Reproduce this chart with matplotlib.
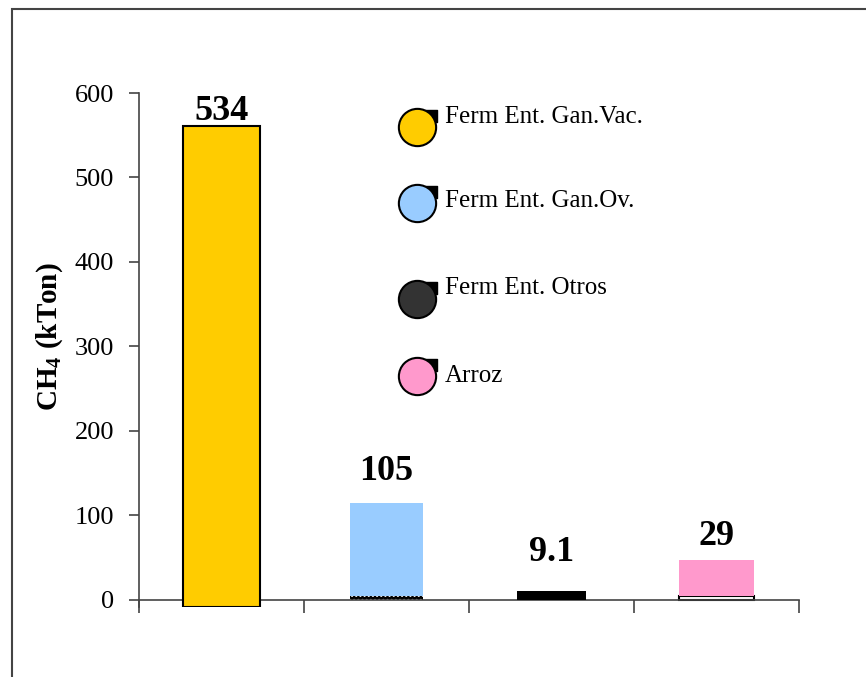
import matplotlib
matplotlib.use("Agg")
import matplotlib.pyplot as plt
from matplotlib.patches import Rectangle

plt.rcParams["font.family"] = ["Liberation Serif", "DejaVu Serif"]
plt.rcParams["mathtext.fontset"] = "custom"
plt.rcParams["mathtext.rm"] = "Liberation Serif"
plt.rcParams["mathtext.bf"] = "Liberation Serif:bold"

# data
categories = ["Ferm Ent. Gan.Vac.", "Ferm Ent. Gan.Ov.", "Ferm Ent. Otros", "Arroz"]
label_values = ["534", "105", "9.1", "29"]
bar_base = [-9, 4.7, 0, 4.7]          # coloured bars do not start at 0 in the original
bar_top = [561, 115, 10.7, 47.4]
under_height = [0, 4, 0, 4]           # small black strips under bars 2 and 4
label_y = [578, 152, 56, 75]
colors = ["#FFCC00", "#99CCFF", "#000000", "#FF99CC"]
legend_colors = ["#FFCC00", "#99CCFF", "#333333", "#FF99CC"]

x = list(range(len(categories)))
heights = [t - b for t, b in zip(bar_top, bar_base)]

fig = plt.figure(figsize=(8.66, 6.77), dpi=100)
ax = fig.add_axes([0.1605, 0.1028, 0.762, 0.7598])

# small strips under bars
ax.bar(x[1], under_height[1], bottom=0, width=0.44, color="black",
       edgecolor="white", hatch="....", linewidth=0, zorder=2)
ax.bar(x[3], under_height[3], bottom=0, width=0.45, facecolor="white",
       edgecolor="black", linewidth=1.5, zorder=2)

edge_w = [1.5, 0, 0, 0]
widths = [0.466, 0.44, 0.42, 0.45]
for i in x:
    ax.bar(x[i], heights[i], bottom=bar_base[i], width=widths[i], color=colors[i],
           edgecolor="black", linewidth=edge_w[i], zorder=3)
    ax.text(x[i], label_y[i], label_values[i], ha="center", va="center",
            fontsize=26, fontweight="bold", zorder=4)

ax.set_xlim(-0.5, 3.5)
ax.set_ylim(-9, 600)
ax.set_yticks([0, 100, 200, 300, 400, 500, 600])
ax.set_xticks([-0.5, 0.5, 1.5, 2.5, 3.5])
ax.set_xticklabels([])
ax.tick_params(axis="y", direction="out", length=7, width=1.2, pad=11,
               labelsize=19, color="#444444")
ax.tick_params(axis="x", direction="out", length=9, width=1.2, color="#444444")
ax.spines["top"].set_visible(False)
ax.spines["right"].set_visible(False)
ax.spines["bottom"].set_position(("data", 0))
for s in ("left", "bottom"):
    ax.spines[s].set_color("#444444")
    ax.spines[s].set_linewidth(1.2)

ax.set_ylabel(r"$\mathbf{CH_4}$ (kTon)", fontsize=21, fontweight="bold")
ax.yaxis.set_label_coords(-0.112, 0.526)

# legend drawn by hand, circles with a small black square behind
circ_y = [0.934, 0.786, 0.600, 0.450]
text_y = [0.954, 0.790, 0.621, 0.450]
for i in x:
    ax.scatter(0.442, circ_y[i] + 0.0214, s=75, marker="s", color="black",
               transform=ax.transAxes, clip_on=False, zorder=5)
    ax.scatter(0.421, circ_y[i], s=720, marker="o", color=legend_colors[i],
               edgecolor="black", linewidth=1.5, transform=ax.transAxes,
               clip_on=False, zorder=6)
    ax.text(0.463, text_y[i], categories[i], fontsize=18, va="center",
            ha="left", transform=ax.transAxes, zorder=6)

# outer frame, cut off at right and bottom like the original
fig.patches.append(Rectangle((0.0139, -0.2), 1.5, 1.1867, transform=fig.transFigure,
                             fill=False, edgecolor="#444444", linewidth=1.5))

fig.savefig("out.png", dpi=100)
